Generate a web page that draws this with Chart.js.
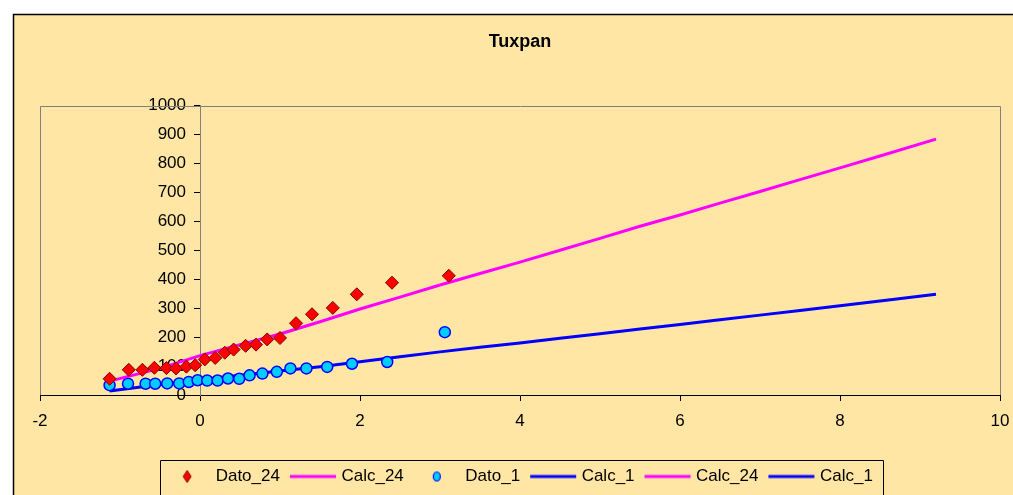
<!DOCTYPE html>
<html>
<head>
<meta charset="utf-8">
<title>Tuxpan</title>
<script src="https://cdn.jsdelivr.net/npm/chart.js@4.4.0/dist/chart.umd.min.js"></script>
<style>
    html, body { margin: 0; padding: 0; background: #fff; }
</style>
</head>
<body>
<canvas id="chart_tuxpan" width="1013" height="495"></canvas>
<script>
// valores (x = variable reducida, y = valor)
var dato24_x = [-1.13, -0.89, -0.72, -0.57, -0.42, -0.30, -0.17, -0.06, 0.06, 0.19, 0.31, 0.42, 0.57, 0.70, 0.84, 1.00, 1.20, 1.40, 1.66, 1.96, 2.40, 3.11];
var dato24_y = [56, 87, 87, 94, 93, 92, 98, 103, 123, 128, 146, 157, 170, 174, 192, 197, 248, 279, 301, 348, 388, 412];

var dato1_x = [-1.13, -0.90, -0.68, -0.56, -0.41, -0.26, -0.14, -0.03, 0.09, 0.22, 0.35, 0.49, 0.62, 0.78, 0.96, 1.13, 1.33, 1.59, 1.90, 2.34, 3.06];
var dato1_y = [34, 39, 39, 39, 40, 40, 45, 51, 50, 50, 57, 56, 68, 74, 80, 92, 92, 97, 108, 114, 217];

var calc_x = [-1.13, -0.5, 0, 0.5, 1.0, 1.5, 2.0, 2.5, 3.0, 3.5, 4.0, 4.5, 5.0, 5.5, 6.0, 6.5, 7.0, 7.5, 8.0, 8.5, 9.2];
var calc24_y = [48, 92, 136, 174, 211, 253, 297, 338, 380, 420, 459, 500, 541, 583, 622, 663, 703, 744, 785, 826, 884];
var calc1_y = [14, 36, 53, 68, 83, 98, 115, 132, 149, 165, 180, 196, 212, 228, 244, 260, 276, 292, 308, 325, 348];

var x_ticks = [-2, 0, 2, 4, 6, 8, 10];
var y_ticks = [0, 100, 200, 300, 400, 500, 600, 700, 800, 900, 1000];

var series_names = ['Dato_24', 'Calc_24', 'Dato_1', 'Calc_1', 'Calc_24', 'Calc_1'];

// primera parte de las curvas calculadas (rango de datos) y la extension
var split_at = 9;

function toPoints(xs, ys) {
    var pts = [];
    for (var i = 0; i < xs.length; ++i) {
        pts.push({ x: xs[i], y: ys[i] });
    }
    return pts;
}

function legendIcon(kind, fill, stroke) {
    var c = document.createElement('canvas');
    c.width = 48;
    c.height = 16;
    var g = c.getContext('2d');
    if (kind === 'diamond') {
        g.beginPath();
        g.moveTo(24, 2); g.lineTo(28, 8); g.lineTo(24, 14); g.lineTo(20, 8);
        g.closePath();
        g.fillStyle = fill; g.fill();
        g.strokeStyle = stroke; g.lineWidth = 1; g.stroke();
    } else if (kind === 'circle') {
        g.beginPath();
        g.ellipse(24, 8, 3.5, 4.5, 0, 0, Math.PI * 2);
        g.fillStyle = fill; g.fill();
        g.strokeStyle = stroke; g.lineWidth = 1.2; g.stroke();
    } else {
        g.beginPath();
        g.moveTo(1, 8); g.lineTo(47, 8);
        g.strokeStyle = stroke; g.lineWidth = 3; g.stroke();
    }
    return c;
}

var legend_icons = [
    legendIcon('diamond', '#ff0000', '#800000'),
    legendIcon('line', null, '#ff00ff'),
    legendIcon('circle', '#00ccff', '#0000ff'),
    legendIcon('line', null, '#0000ff'),
    legendIcon('line', null, '#ff00ff'),
    legendIcon('line', null, '#0000ff')
];

var tuxpan_plugin = {
    id: 'tuxpan_plugin',
    afterLayout: function (chart) {
        // las etiquetas del eje y quedan pegadas al eje en x=0, las corro a la izquierda
        var items = chart.scales.y.getLabelItems();
        items.forEach(function (it) {
            it.options.translation[0] -= 14;
        });
    },
    beforeDraw: function (chart) {
        var ctx = chart.ctx;
        ctx.save();
        ctx.fillStyle = '#ffffff';
        ctx.fillRect(0, 0, chart.width, chart.height);
        ctx.fillStyle = '#ffe6a5';
        ctx.fillRect(13, 14, chart.width - 13, chart.height - 14);
        ctx.strokeStyle = '#000';
        ctx.lineWidth = 1.5;
        ctx.beginPath();
        ctx.moveTo(13.5, chart.height);
        ctx.lineTo(13.5, 14.5);
        ctx.lineTo(chart.width, 14.5);
        ctx.stroke();
        ctx.restore();
    },
    beforeDatasetsDraw: function (chart) {
        var ctx = chart.ctx;
        var a = chart.chartArea;
        var l = Math.round(a.left) + 0.5, r = Math.round(a.right) + 0.5;
        var t = Math.round(a.top) + 0.5, b = Math.round(a.bottom);
        ctx.save();
        ctx.strokeStyle = '#808080';
        ctx.lineWidth = 1;
        ctx.beginPath();
        ctx.moveTo(l, b); ctx.lineTo(l, t); ctx.lineTo(r, t); ctx.lineTo(r, b);
        ctx.stroke();
        ctx.restore();
    },
    afterDraw: function (chart) {
        var boxes = chart.legend.legendHitBoxes;
        if (!boxes || !boxes.length) return;
        var minL = boxes[0].left, maxR = 0, top = boxes[0].top;
        boxes.forEach(function (b) {
            minL = Math.min(minL, b.left);
            maxR = Math.max(maxR, b.left + b.width);
        });
        var ctx = chart.ctx;
        ctx.save();
        ctx.strokeStyle = '#000';
        ctx.lineWidth = 1;
        ctx.beginPath();
        var l = Math.round(minL - 7) + 0.5, r = Math.round(maxR + 10) + 0.5, t = Math.round(top - 8) + 0.5;
        ctx.moveTo(l, chart.height + 2);
        ctx.lineTo(l, t);
        ctx.lineTo(r, t);
        ctx.lineTo(r, chart.height + 2);
        ctx.stroke();
        ctx.restore();
    }
};

Chart.defaults.font.family = '"Liberation Sans", Arial, sans-serif';
Chart.defaults.font.size = 17;
Chart.defaults.color = '#000';

var tuxpan_ctx = document.getElementById('chart_tuxpan').getContext('2d');
var tuxpan_config = {
    type: 'scatter',
    data: {
        datasets: [{
            label: series_names[0],
            data: toPoints(dato24_x, dato24_y),
            pointStyle: 'rectRot',
            pointRadius: 6.5,
            backgroundColor: '#ff0000',
            borderColor: '#800000',
            borderWidth: 1,
            showLine: false
        }, {
            label: series_names[1],
            data: toPoints(calc_x.slice(0, split_at), calc24_y.slice(0, split_at)),
            showLine: true,
            pointRadius: 0,
            borderColor: '#ff00ff',
            borderWidth: 3
        }, {
            label: series_names[2],
            data: toPoints(dato1_x, dato1_y),
            pointStyle: 'circle',
            pointRadius: 5.5,
            backgroundColor: '#00ccff',
            borderColor: '#0000ff',
            borderWidth: 1.5,
            showLine: false
        }, {
            label: series_names[3],
            data: toPoints(calc_x.slice(0, split_at), calc1_y.slice(0, split_at)),
            showLine: true,
            pointRadius: 0,
            borderColor: '#0000ff',
            borderWidth: 3
        }, {
            label: series_names[4],
            data: toPoints(calc_x.slice(split_at - 1), calc24_y.slice(split_at - 1)),
            showLine: true,
            pointRadius: 0,
            borderColor: '#ff00ff',
            borderWidth: 3
        }, {
            label: series_names[5],
            data: toPoints(calc_x.slice(split_at - 1), calc1_y.slice(split_at - 1)),
            showLine: true,
            pointRadius: 0,
            borderColor: '#0000ff',
            borderWidth: 3
        }]
    },
    options: {
        responsive: false,
        animation: false,
        layout: { padding: { top: 14, left: 40, right: 13, bottom: 0 } },
        scales: {
            x: {
                type: 'linear',
                position: 'bottom',
                min: x_ticks[0],
                max: x_ticks[x_ticks.length - 1],
                afterBuildTicks: function (scale) {
                    scale.ticks = x_ticks.map(function (v) { return { value: v }; });
                },
                ticks: { padding: 10, callback: function (v) { return String(v); } },
                grid: { drawOnChartArea: false, drawTicks: true, tickLength: 6, color: '#000' },
                border: { display: true, color: '#000', width: 1 },
                afterFit: function (scale) {
                    scale.height = 60;
                    scale.paddingLeft = 0;
                    scale.paddingRight = 0;
                }
            },
            y: {
                type: 'linear',
                position: { x: 0 },
                min: y_ticks[0],
                max: y_ticks[y_ticks.length - 1],
                afterBuildTicks: function (scale) {
                    scale.ticks = y_ticks.map(function (v) { return { value: v }; });
                },
                ticks: { padding: 9, callback: function (v) { return String(v); } },
                grid: { drawOnChartArea: false, drawTicks: true, tickLength: 6, color: '#000' },
                border: { display: true, color: '#808080', width: 1 },
                z: 1
            }
        },
        plugins: {
            title: {
                display: true,
                text: 'Tuxpan',
                fullSize: false,
                font: { size: 18, weight: 'bold' },
                padding: { top: 17, bottom: 53 }
            },
            legend: {
                position: 'bottom',
                fullSize: false,
                labels: {
                    usePointStyle: true,
                    pointStyleWidth: 40,
                    padding: 13,
                    generateLabels: function (chart) {
                        return chart.data.datasets.map(function (ds, i) {
                            return {
                                text: ds.label,
                                pointStyle: legend_icons[i],
                                fillStyle: ds.backgroundColor || ds.borderColor,
                                strokeStyle: ds.borderColor,
                                lineWidth: 0,
                                hidden: false,
                                datasetIndex: i
                            };
                        });
                    }
                }
            },
            tooltip: { enabled: false }
        }
    },
    plugins: [tuxpan_plugin]
};

var tuxpan_chart = new Chart(tuxpan_ctx, tuxpan_config);
</script>
</body>
</html>
